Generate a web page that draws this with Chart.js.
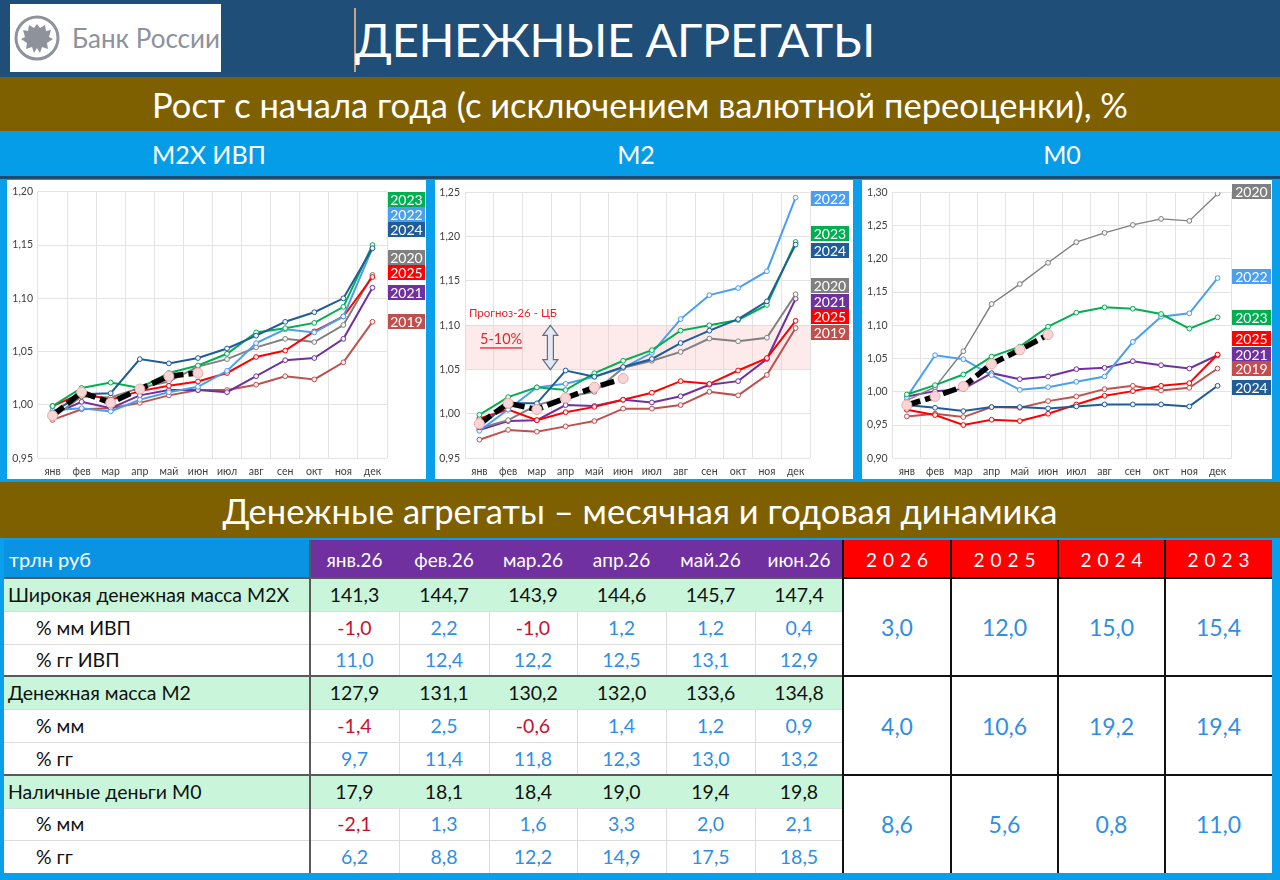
<!DOCTYPE html>
<html><head><meta charset="utf-8">
<script src="https://cdn.jsdelivr.net/npm/chart.js@4.4.0/dist/chart.umd.min.js"></script>
<style>
body{margin:0;width:1280px;height:880px;overflow:hidden;font-family:Lato,'Noto Sans',sans-serif;background:#0a9fea;position:relative}
div{box-sizing:border-box}
canvas{position:absolute}
</style></head><body>
<script>
// ---------- DATA ----------
const months = ['янв','фев','мар','апр','май','июн','июл','авг','сен','окт','ноя','дек'];
const years = ['2019','2020','2021','2022','2023','2024','2025','2026'];

const m2x_2019 = [0.986,0.996,0.997,1.002,1.009,1.014,1.014,1.019,1.027,1.024,1.040,1.078];
const m2x_2020 = [0.988,1.008,1.007,1.016,1.022,1.036,1.043,1.054,1.062,1.059,1.075,1.122];
const m2x_2021 = [0.991,1.003,0.997,1.009,1.014,1.014,1.012,1.027,1.042,1.044,1.062,1.110];
const m2x_2022 = [0.995,0.997,0.994,1.005,1.012,1.017,1.032,1.058,1.071,1.068,1.083,1.147];
const m2x_2023 = [0.999,1.016,1.021,1.016,1.030,1.037,1.048,1.068,1.072,1.077,1.092,1.150];
const m2x_2024 = [0.993,1.010,1.011,1.043,1.039,1.044,1.053,1.065,1.078,1.087,1.100,1.147];
const m2x_2025 = [0.999,1.011,1.005,1.013,1.018,1.022,1.030,1.045,1.051,1.069,1.083,1.120];
const m2x_2026 = [0.990,1.012,1.002,1.015,1.027,1.030];

const m2_2019 = [0.971,0.982,0.980,0.986,0.992,1.006,1.006,1.010,1.025,1.021,1.044,1.097];
const m2_2020 = [0.984,0.993,1.010,1.019,1.025,1.052,1.060,1.070,1.085,1.082,1.086,1.135];
const m2_2021 = [0.982,0.992,0.993,1.010,1.009,1.016,1.013,1.020,1.033,1.037,1.062,1.130];
const m2_2022 = [0.981,1.005,1.030,1.034,1.042,1.052,1.069,1.107,1.134,1.142,1.161,1.244];
const m2_2023 = [0.999,1.019,1.030,1.027,1.046,1.060,1.072,1.094,1.100,1.106,1.123,1.194];
const m2_2024 = [0.985,1.012,1.012,1.049,1.042,1.053,1.062,1.080,1.094,1.107,1.127,1.191];
const m2_2025 = [0.995,1.005,0.993,1.002,1.008,1.016,1.024,1.037,1.034,1.049,1.063,1.105];
const m2_2026 = [0.989,1.012,1.005,1.018,1.030,1.040];

const m0_2019 = [0.963,0.967,0.962,0.977,0.976,0.986,0.993,1.004,1.009,1.002,1.006,1.035];
const m0_2020 = [0.987,1.007,1.061,1.132,1.162,1.194,1.225,1.239,1.251,1.260,1.257,1.298];
const m0_2021 = [0.993,1.001,1.004,1.028,1.019,1.023,1.034,1.036,1.046,1.040,1.035,1.055];
const m0_2022 = [0.992,1.055,1.049,1.025,1.003,1.007,1.015,1.023,1.075,1.113,1.118,1.171];
const m0_2023 = [0.996,1.010,1.026,1.053,1.068,1.098,1.119,1.127,1.125,1.117,1.095,1.112];
const m0_2024 = [0.980,0.976,0.971,0.977,0.977,0.975,0.978,0.981,0.981,0.981,0.978,1.009];
const m0_2025 = [0.973,0.965,0.950,0.958,0.956,0.967,0.981,0.994,1.001,1.009,1.013,1.056];
const m0_2026 = [0.980,0.993,1.008,1.042,1.063,1.086];

const m2BandLow = 1.05, m2BandHigh = 1.10;

const tableMonths = ['янв.26','фев.26','мар.26','апр.26','май.26','июн.26'];
const tableYears = ['2026','2025','2024','2023'];
const m2xLevel = [141.3,144.7,143.9,144.6,145.7,147.4];
const m2xMoM   = [-1.0,2.2,-1.0,1.2,1.2,0.4];
const m2xYoY   = [11.0,12.4,12.2,12.5,13.1,12.9];
const m2xYears = [3.0,12.0,15.0,15.4];
const m2Level  = [127.9,131.1,130.2,132.0,133.6,134.8];
const m2MoM    = [-1.4,2.5,-0.6,1.4,1.2,0.9];
const m2YoY    = [9.7,11.4,11.8,12.3,13.0,13.2];
const m2Years  = [4.0,10.6,19.2,19.4];
const m0Level  = [17.9,18.1,18.4,19.0,19.4,19.8];
const m0MoM    = [-2.1,1.3,1.6,3.3,2.0,2.1];
const m0YoY    = [6.2,8.8,12.2,14.9,17.5,18.5];
const m0Years  = [8.6,5.6,0.8,11.0];

// ---------- STYLE ----------
const colors = {'2019':'#c0504d','2020':'#808080','2021':'#7030a0','2022':'#4a9ff0','2023':'#00b050','2024':'#1f5c99','2025':'#ff0000','2026':'#000000'};

function box(x,y,w,h,style){const d=document.createElement('div');d.style.cssText=`position:absolute;left:${x}px;top:${y}px;width:${w}px;height:${h}px;`+(style||'');document.body.appendChild(d);return d;}
function txt(x,y,w,h,t,style){const d=box(x,y,w,h,'display:flex;align-items:center;white-space:nowrap;'+(style||''));d.textContent=t;return d;}
const fmt1 = v => v.toFixed(1).replace('.',',');

// ---------- HEADER ----------
box(0,0,1280,77,'background:#1f4e79');
box(10,4,211,68,'background:#fff');
const logo = box(13,12,52,52,'');
logo.innerHTML = '<svg width="52" height="52" viewBox="0 0 52 52"><circle cx="24" cy="26" r="21" fill="none" stroke="#8d929b" stroke-width="3"/><path d="M24 12 l3 4 l5 -3 l1 6 l5 -1 l-2 7 l4 2 l-6 4 l1 6 l-6 -2 l-2 6 l-3 -5 l-3 5 l-2 -6 l-6 2 l1 -6 l-6 -4 l4 -2 l-2 -7 l5 1 l1 -6 l5 3 z" fill="#8d929b"/></svg>';
txt(72,20,150,36,'Банк России','color:#8d929b;font-size:26px;');
box(354,8,2,64,'background:#c8a27a');
txt(355,6,700,66,'ДЕНЕЖНЫЕ АГРЕГАТЫ','color:#fff;font-size:47px;letter-spacing:-0.3px;');
box(0,77,1280,54,'background:#7f6000');
txt(0,77,1280,54,'Рост с начала года (с исключением валютной переоценки), %','color:#fff;font-size:34.5px;justify-content:center;');
box(0,131,1280,45,'background:#069de8');
txt(152,131,200,45,'M2X ИВП','color:#fff;font-size:25px;');
txt(536,131,200,45,'M2','color:#fff;font-size:25px;justify-content:center;');
txt(962,131,200,45,'M0','color:#fff;font-size:25px;justify-content:center;');
box(0,176,1280,3,'background:#1c4a73');

// chart panels
const panels = [
  {x:7,y:180,w:419,h:299,yw:31,pr:39,pt:11.7,xh:20.7},
  {x:435,y:180,w:418,h:299,yw:30,pr:43,pt:12.3,xh:20.7},
  {x:862,y:180,w:410,h:299,yw:30.7,pr:40.3,pt:12.3,xh:20.7}
];
panels.forEach(p=>box(p.x,p.y,p.w,p.h,'background:#fff'));

// second section band
box(0,482,1280,56,'background:#7f6000');
txt(0,482,1280,56,'Денежные агрегаты – месячная и годовая динамика','color:#fff;font-size:34.5px;justify-content:center;');

// ---------- CHARTS ----------
const bandPlugin = {
  id:'fcBand',
  beforeDatasetsDraw(chart,args,o){
    if(!o || !o.on) return;
    const {ctx,chartArea:a,scales:{x,y}} = chart;
    const yt=y.getPixelForValue(m2BandHigh), yb=y.getPixelForValue(m2BandLow);
    ctx.save();
    ctx.fillStyle='rgba(248,190,190,0.33)';
    ctx.fillRect(a.left,yt,a.right-a.left,yb-yt);
    ctx.restore();
  },
  afterDraw(chart,args,o){
    if(!o || !o.on) return;
    const {ctx,chartArea:a,scales:{x,y}} = chart;
    ctx.save();
    ctx.fillStyle='#e8262a';
    ctx.font='11.5px Lato';
    ctx.textBaseline='middle';
    ctx.fillText('Прогноз-26 - ЦБ', a.left+4, y.getPixelForValue(1.1135));
    ctx.font='14.5px Lato';
    const ty=y.getPixelForValue(1.0842);
    ctx.fillText('5-10%', a.left+15, ty);
    const w=ctx.measureText('5-10%').width;
    ctx.fillRect(a.left+15, ty+8, w, 1.3);
    // double arrow
    const cx = x.getPixelForValue(2.47);
    const yt=y.getPixelForValue(m2BandHigh), yb=y.getPixelForValue(m2BandLow);
    const hw=7.5, sw=3, hh=10;
    ctx.beginPath();
    ctx.moveTo(cx,yt);
    ctx.lineTo(cx+hw,yt+hh); ctx.lineTo(cx+sw,yt+hh);
    ctx.lineTo(cx+sw,yb-hh); ctx.lineTo(cx+hw,yb-hh);
    ctx.lineTo(cx,yb);
    ctx.lineTo(cx-hw,yb-hh); ctx.lineTo(cx-sw,yb-hh);
    ctx.lineTo(cx-sw,yt+hh); ctx.lineTo(cx-hw,yt+hh);
    ctx.closePath();
    ctx.fillStyle='#e4e9f1'; ctx.fill();
    ctx.strokeStyle='#5d6f88'; ctx.lineWidth=1.2; ctx.stroke();
    ctx.restore();
  }
};

function makeChart(p, series, yMin, yMax, band){
  const c=document.createElement('canvas');
  c.width=p.w; c.height=p.h;
  c.style.left=p.x+'px'; c.style.top=p.y+'px';
  document.body.appendChild(c);
  const ds=[];
  ds.push({label:'2026',data:series['2026'],borderColor:'#000',borderWidth:5.5,borderDash:[14,5],
    pointRadius:5,pointBackgroundColor:'#f9d6d6',pointBorderColor:'#e9a9a9',pointBorderWidth:1});
  ['2024','2023','2022','2025','2020','2021','2019'].forEach(yr=>{
    ds.push({label:yr,data:series[yr],borderColor:colors[yr],borderWidth:(band==='m0'&&yr==='2020')?1.4:2,
      pointRadius:2.4,pointBackgroundColor:'#f4f4f8',pointBorderColor:colors[yr],pointBorderWidth:1,tension:0});
  });
  new Chart(c,{
    type:'line',
    data:{labels:months,datasets:ds},
    plugins:[bandPlugin],
    options:{
      responsive:false,animation:false,
      layout:{padding:{top:p.pt,right:p.pr,left:0,bottom:0}},
      plugins:{legend:{display:false},tooltip:{enabled:false},fcBand:{on:band==='m2'}},
      scales:{
        x:{offset:true,grid:{offset:true,color:'#e3e3e3',drawTicks:false},border:{display:false},
           ticks:{color:'#404040',font:{size:10.5,family:'Lato'},padding:7,autoSkip:false,maxRotation:0},
           afterFit(s){s.height=p.xh;}},
        y:{min:yMin,max:yMax,grid:{color:'#e3e3e3',drawTicks:false},border:{display:false},
           ticks:{stepSize:0.05,color:'#404040',font:{size:10.5,family:'Lato'},padding:5,
             callback:v=>v.toFixed(2).replace('.',',')},
           afterFit(s){s.width=p.yw;}}
      }
    }
  });
}

makeChart(panels[0],{'2019':m2x_2019,'2020':m2x_2020,'2021':m2x_2021,'2022':m2x_2022,'2023':m2x_2023,'2024':m2x_2024,'2025':m2x_2025,'2026':m2x_2026},0.95,1.20,'m2x');
makeChart(panels[1],{'2019':m2_2019,'2020':m2_2020,'2021':m2_2021,'2022':m2_2022,'2023':m2_2023,'2024':m2_2024,'2025':m2_2025,'2026':m2_2026},0.95,1.25,'m2');
makeChart(panels[2],{'2019':m0_2019,'2020':m0_2020,'2021':m0_2021,'2022':m0_2022,'2023':m0_2023,'2024':m0_2024,'2025':m0_2025,'2026':m0_2026},0.90,1.30,'m0');

// year tags next to charts
const tags = [
  [388,37,[['2023',199],['2022',214],['2024',229],['2020',257],['2025',272],['2021',292],['2019',321]]],
  [811,38,[['2022',198],['2023',233],['2024',250],['2020',285],['2021',301],['2025',316],['2019',332]]],
  [1232,39,[['2020',191],['2022',276],['2023',317],['2025',338],['2021',354],['2019',368],['2024',387]]]
];
tags.forEach(([x,w,list])=>list.forEach(([yr,cy])=>{
  txt(x,cy-7.5,w,15,yr,`background:${colors[yr]};color:#fff;font-size:14px;justify-content:center;`);
}));

// ---------- TABLE ----------
const colX=[4,310,399,489,577,666,755,843,951,1058,1165,1272];
const hdrY=540, hdrH=38, rowH=32.8, row0=578;
box(4,hdrY,1268,333,'background:#fff');
box(colX[0],hdrY,colX[1]-colX[0],hdrH,'background:#0b93e3');
txt(colX[0]+5,hdrY,200,hdrH,'трлн руб','color:#fff;font-size:20px;');
box(colX[1],hdrY,colX[7]-colX[1],hdrH,'background:#7030a0');
tableMonths.forEach((m,i)=>txt(colX[1+i],hdrY,colX[2+i]-colX[1+i],hdrH,m,'color:#fff;font-size:19px;justify-content:center;'));
box(colX[7],hdrY,colX[11]-colX[7],hdrH,'background:#ff0000');
tableYears.forEach((y,i)=>txt(colX[7+i],hdrY,colX[8+i]-colX[7+i],hdrH,y,'color:#fff;font-size:19px;letter-spacing:6px;padding-left:6px;justify-content:center;'));

const groups=[
  {label:'Широкая денежная масса M2X',lvl:m2xLevel,subs:[['% мм ИВП',m2xMoM],['% гг ИВП',m2xYoY]],yrs:m2xYears},
  {label:'Денежная масса M2',lvl:m2Level,subs:[['% мм',m2MoM],['% гг',m2YoY]],yrs:m2Years},
  {label:'Наличные деньги M0',lvl:m0Level,subs:[['% мм',m0MoM],['% гг',m0YoY]],yrs:m0Years}
];
groups.forEach((g,gi)=>{
  const y0=row0+gi*3*rowH;
  box(colX[0],y0,colX[7]-colX[0],rowH,'background:#c9f6da');
  txt(colX[0]+4,y0,300,rowH,g.label,'color:#111;font-size:19.5px;');
  g.lvl.forEach((v,i)=>txt(colX[1+i],y0,colX[2+i]-colX[1+i],rowH,fmt1(v),'color:#111;font-size:19.5px;justify-content:center;'));
  g.subs.forEach(([lab,vals],si)=>{
    const y=y0+(si+1)*rowH;
    box(colX[0],y,colX[7]-colX[0],1,'background:#dcdcdc');
    txt(colX[0]+32,y,250,rowH,lab,'color:#111;font-size:19.5px;');
    vals.forEach((v,i)=>{
      txt(colX[1+i],y,colX[2+i]-colX[1+i],rowH,fmt1(v),`color:${v<0?'#c8102e':'#2f8fe4'};font-size:19.5px;justify-content:center;`);
      if(i>0) box(colX[1+i],y,1,rowH,'background:#dcdcdc');
    });
  });
  g.yrs.forEach((v,i)=>txt(colX[7+i],y0,colX[8+i]-colX[7+i],rowH*3,fmt1(v),'color:#2f8fe4;font-size:23px;justify-content:center;'));
  box(colX[0],y0-1,colX[7]-colX[0],2,'background:#5a5a5a');
  box(colX[7],y0-1,colX[11]-colX[7],2,'background:#111');
});
box(colX[1]-1,hdrY,2,333,'background:#5a5a5a');
for(let i=7;i<11;i++) box(colX[i]-1,hdrY,2,333,'background:#111');
box(0,873,1280,7,'background:#0a9fea');
</script>
</body></html>
